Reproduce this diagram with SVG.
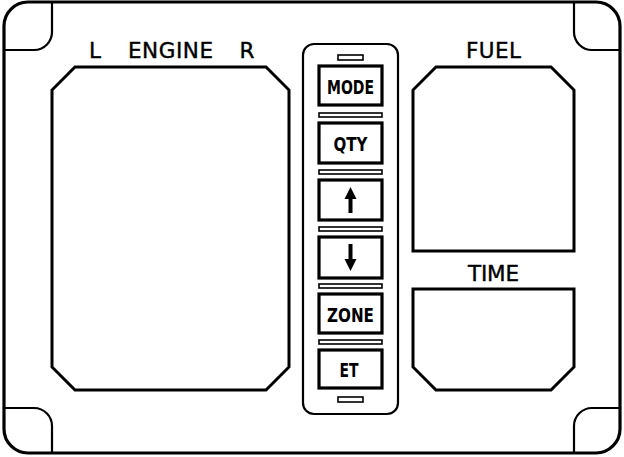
<svg xmlns="http://www.w3.org/2000/svg" width="624" height="457" viewBox="0 0 624 457">
<defs>
<style>
.frame{fill:none;stroke:#000;stroke-width:3.2}
.thin{fill:none;stroke:#000;stroke-width:2.2}
.box{fill:none;stroke:#000;stroke-width:3;stroke-linejoin:miter}
.btn{fill:#fff;stroke:#000;stroke-width:3.2}
.bar{fill:#fff;stroke:#000;stroke-width:1.6}
.lbl{font-family:"DejaVu Sans","Liberation Sans",sans-serif;font-size:21.5px;text-anchor:middle;fill:#000;stroke:#000;stroke-width:0.4}
.bt{font-family:"DejaVu Sans Condensed","DejaVu Sans","Liberation Sans",sans-serif;font-weight:bold;font-size:19px;text-anchor:middle;fill:#000}
</style>
</defs>
<rect width="624" height="457" fill="#fff"/>
<g id="frame">
<rect class="frame" x="4" y="2" width="616" height="451" rx="24" ry="24"/>
<path class="thin" d="M52,2 V32 A18,18 0 0 1 34,50 H4"/>
<path class="thin" d="M574,2 V32 A18,18 0 0 0 592,50 H620"/>
<path class="thin" d="M4,408 H34 A18,18 0 0 1 52,426 V453"/>
<path class="thin" d="M620,408 H592 A18,18 0 0 0 574,426 V453"/>
</g>
<g id="engine">
<text class="lbl" x="95" y="57.5">L</text>
<text class="lbl" x="170.5" y="57.5" textLength="85">ENGINE</text>
<text class="lbl" x="247" y="57.5">R</text>
<path class="box" d="M75,67 H266 L289,90 V367 L266,390 H75 L52,367 V90 Z"/>
</g>
<g id="fuel">
<text class="lbl" x="493.5" y="57.5" textLength="55">FUEL</text>
<path class="box" d="M436,67 H551 L574,90 V251 H413 V90 Z"/>
</g>
<g id="time">
<text class="lbl" x="493.5" y="280.5" textLength="51">TIME</text>
<path class="box" d="M413,289 H574 V367 L551,390 H436 L413,367 Z"/>
</g>
<g id="panel">
<rect class="thin" x="303" y="44" width="95" height="370" rx="11" ry="11"/>
<rect class="bar" x="338" y="55" width="25" height="5"/>
<rect class="bar" x="338" y="397" width="25" height="5"/>
<rect class="bar" x="319" y="113" width="63" height="4"/>
<rect class="bar" x="319" y="170" width="63" height="4"/>
<rect class="bar" x="319" y="227" width="63" height="4"/>
<rect class="bar" x="319" y="284" width="63" height="4"/>
<rect class="bar" x="319" y="340" width="63" height="4"/>
</g>
<g id="btn-mode">
<rect class="btn" x="319" y="66" width="63" height="39"/>
<text class="bt" x="350.5" y="94" textLength="47" lengthAdjust="spacingAndGlyphs">MODE</text>
</g>
<g id="btn-qty">
<rect class="btn" x="319" y="123" width="63" height="40"/>
<text class="bt" x="350.5" y="151" textLength="34" lengthAdjust="spacingAndGlyphs">QTY</text>
</g>
<g id="btn-up">
<rect class="btn" x="319" y="180" width="63" height="40"/>
<rect x="348.5" y="196" width="4" height="17" fill="#000"/>
<polygon points="350.5,187 344.5,199 356.5,199" fill="#000"/>
</g>
<g id="btn-down">
<rect class="btn" x="319" y="237" width="63" height="41"/>
<rect x="348.5" y="244" width="4" height="17" fill="#000"/>
<polygon points="350.5,271 344.5,259 356.5,259" fill="#000"/>
</g>
<g id="btn-zone">
<rect class="btn" x="319" y="294" width="63" height="39"/>
<text class="bt" x="350.5" y="322" textLength="47" lengthAdjust="spacingAndGlyphs">ZONE</text>
</g>
<g id="btn-et">
<rect class="btn" x="319" y="350" width="63" height="38"/>
<text class="bt" x="349" y="377" textLength="19" lengthAdjust="spacingAndGlyphs">ET</text>
</g>
<g id="connectors"></g>
</svg>
